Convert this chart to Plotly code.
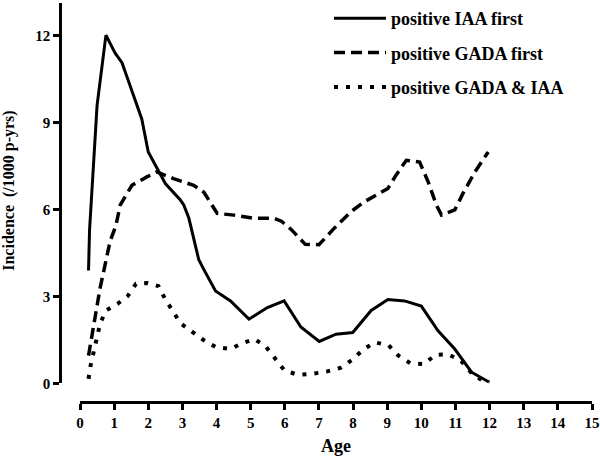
import plotly.graph_objects as go

# ---- data ----
iaa_x = [0.25, 0.28, 0.5, 0.76, 1.03, 1.23, 1.37, 1.67, 1.81, 2.0, 2.25, 2.5, 2.94, 3.04, 3.19,
         3.48, 3.63, 3.97, 4.41, 4.95, 5.49, 5.98, 6.47, 7.01, 7.5, 7.99, 8.53, 9.02, 9.51,
         10.0, 10.49, 10.98, 11.47, 11.98]
iaa_y = [3.9, 5.3, 9.6, 12.02, 11.4, 11.07, 10.6, 9.6, 9.13, 7.99, 7.42, 6.9, 6.33, 6.16, 5.7,
         4.27, 3.93, 3.19, 2.85, 2.22, 2.62, 2.85, 1.95, 1.45, 1.7, 1.76, 2.52, 2.9, 2.85,
         2.67, 1.82, 1.19, 0.39, 0.05]

gada_x = [0.25, 0.44, 0.59, 0.88, 1.05, 1.18, 1.52, 1.96, 2.25, 2.74, 3.33, 3.63, 4.02, 4.51,
          5.1, 5.69, 5.9, 6.2, 6.6, 7.0, 7.45, 7.94, 8.33, 9.02, 9.26, 9.56, 9.95, 10.2,
          10.44, 10.59, 10.98, 11.22, 11.57, 11.96]
gada_y = [0.96, 2.27, 3.3, 4.9, 5.45, 6.16, 6.84, 7.13, 7.3, 7.07, 6.84, 6.6, 5.87, 5.81,
          5.7, 5.7, 5.6, 5.3, 4.8, 4.79, 5.36, 5.93, 6.27, 6.73, 7.19, 7.7, 7.64, 6.96,
          6.16, 5.81, 5.99, 6.56, 7.3, 7.99]

both_x = [0.25, 0.31, 0.59, 0.76, 1.1, 1.4, 1.64, 1.96, 2.3, 2.5, 2.72, 2.94, 3.28, 3.61, 3.99,
          4.41, 4.75, 5.12, 5.46, 5.74, 5.99, 6.38, 6.79, 7.22, 7.63, 7.97, 8.28, 8.63, 9.04,
          9.33, 9.68, 10.08, 10.41, 10.78, 11.16, 11.45, 11.76, 12.0]
both_y = [0.16, 0.62, 2.07, 2.52, 2.75, 3.02, 3.44, 3.47, 3.36, 2.9, 2.5, 2.08, 1.79, 1.51, 1.25,
          1.19, 1.39, 1.53, 1.25, 0.84, 0.45, 0.3, 0.33, 0.41, 0.54, 0.81, 1.15, 1.42, 1.32,
          0.96, 0.7, 0.67, 0.99, 1.01, 0.79, 0.39, 0.12, 0.05]

series_names = ["positive IAA first", "positive GADA first", "positive GADA &amp; IAA"]
y_ticks = [0, 3, 6, 9, 12]
x_ticks = list(range(0, 16))

W, H = 600, 458
FONT = "Liberation Serif"

fig = go.Figure()
fig.add_trace(go.Scatter(x=iaa_x, y=iaa_y, mode="lines", name=series_names[0],
                         legendgroup="a", line=dict(color="black", width=3)))
fig.add_trace(go.Scatter(x=gada_x, y=gada_y, mode="lines", name=series_names[1],
                         legendgroup="b", line=dict(color="black", width=3.5, dash="11px,6px")))
fig.add_trace(go.Scatter(x=both_x, y=both_y, mode="lines", name=series_names[2],
                         legendgroup="c", line=dict(color="black", width=4, dash="4px,8px")))

axis_common = dict(showline=True, linecolor="black", linewidth=2.5, ticks="outside",
                   ticklen=6, tickwidth=2.5, tickcolor="black", showgrid=False, zeroline=False,
                   tickfont=dict(family=FONT, size=15, color="black", weight="bold"),
                   automargin=False, fixedrange=True)

fig.update_layout(
    width=W, height=H,
    margin=dict(l=0, r=0, t=0, b=0),
    paper_bgcolor="white", plot_bgcolor="white",
    xaxis=dict(domain=[80 / W, 592 / W], range=[0, 15], tickvals=x_ticks,
               anchor="free", position=1 - 402 / H, **axis_common),
    yaxis=dict(domain=[1 - 383 / H, 1], range=[0, 13.13], tickvals=y_ticks,
               anchor="free", position=60 / W, **axis_common),
    legend=dict(x=329 / W, y=1 + 3 / H, xanchor="left", yanchor="top",
                bgcolor="rgba(0,0,0,0)", tracegroupgap=8, itemwidth=52,
                font=dict(family=FONT, size=18, color="black", weight="bold")),
    annotations=[
        dict(text="Incidence  (/1000 p-yrs)", xref="paper", yref="paper",
             x=9 / W, y=1 - 189 / H, xanchor="center", yanchor="middle", textangle=-90,
             showarrow=False, font=dict(family=FONT, size=16, color="black", weight="bold")),
        dict(text="Age", xref="paper", yref="paper", x=336 / W, y=1 - 446 / H,
             xanchor="center", yanchor="middle", showarrow=False,
             font=dict(family=FONT, size=18, color="black", weight="bold")),
    ],
)

fig.write_html("out.html", config={"displayModeBar": False},
               post_script="document.body.style.margin='0px';")
